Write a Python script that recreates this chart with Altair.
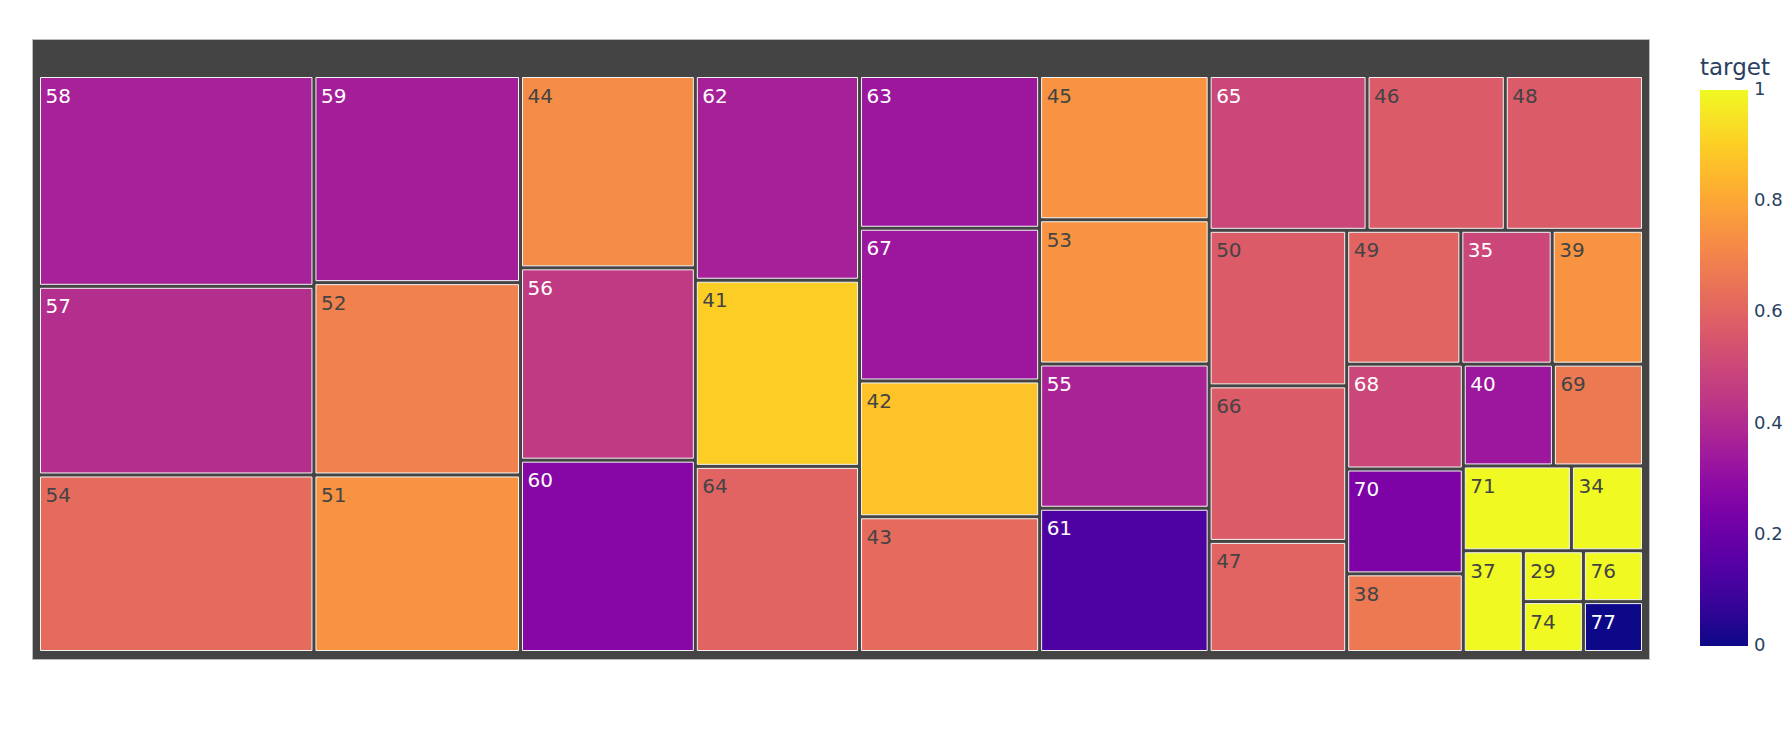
import altair as alt
import pandas as pd

# ---- data (age label, count = tile size, mean target = colour)
ages = [58, 57, 54, 59, 52, 51, 62, 44, 60, 56, 64, 41, 63, 67, 55, 61, 53, 45, 43, 42, 65,
        50, 66, 48, 46, 49, 47, 70, 39, 68, 35, 69, 40, 71, 38, 34, 37, 29, 74, 76, 77]
counts = [19, 17, 16, 14, 13, 12, 11, 11, 11, 11, 10, 10, 9, 9, 8, 8, 8, 8, 8, 8, 8,
          7, 7, 7, 7, 5, 5, 4, 4, 4, 4, 3, 3, 3, 3, 2, 2, 1, 1, 1, 1]
targets = [0.368, 0.412, 0.625, 0.357, 0.692, 0.75, 0.364, 0.727, 0.273, 0.455, 0.6, 0.9,
           0.333, 0.333, 0.375, 0.125, 0.75, 0.75, 0.625, 0.875, 0.5,
           0.571, 0.571, 0.571, 0.571, 0.6, 0.6, 0.25, 0.75, 0.5, 0.5, 0.667, 0.333, 1.0,
           0.667, 1.0, 1.0, 1.0, 1.0, 1.0, 0.0]
colorbar_ticks = [0, 0.2, 0.4, 0.6, 0.8, 1]

# ---- layout geometry (pixels of the plot area)
W, H = 1618, 621
PAD_L, PAD_R, PAD_T, PAD_B = 8, 8, 38, 9
GAP = 3.0


def squarify(values, x0, y0, x1, y1, ratio=1.0):
    """Port of d3-hierarchy squarify tiling."""
    out = [None] * len(values)
    n = len(values)
    i0 = i1 = 0
    value = float(sum(values))
    while i0 < n:
        dx, dy = x1 - x0, y1 - y0
        sumv = values[i1]
        i1 += 1
        minv = maxv = sumv
        alpha = max(dy / dx, dx / dy) / (value * ratio)
        beta = sumv * sumv * alpha
        minr = max(maxv / beta, beta / minv)
        while i1 < n:
            nv = values[i1]
            sumv += nv
            minv = min(minv, nv)
            maxv = max(maxv, nv)
            beta = sumv * sumv * alpha
            newr = max(maxv / beta, beta / minv)
            if newr > minr:
                sumv -= nv
                break
            minr = newr
            i1 += 1
        row = range(i0, i1)
        if dx < dy:
            ny = y0 + dy * sumv / value
            k = (x1 - x0) / sumv
            xx = x0
            for i in row:
                out[i] = (xx, y0, xx + values[i] * k, ny)
                xx += values[i] * k
            y0 = ny
        else:
            nx = x0 + dx * sumv / value
            k = (y1 - y0) / sumv
            yy = y0
            for i in row:
                out[i] = (x0, yy, nx, yy + values[i] * k)
                yy += values[i] * k
            x0 = nx
        value -= sumv
        i0 = i1
    return out


order = sorted(range(len(ages)), key=lambda i: (-counts[i], ages[i]))
vals = [counts[i] for i in order]
p = GAP / 2
rects = squarify(vals, PAD_L - p, PAD_T - p, W - PAD_R + p, H - PAD_B + p)

inset = p + 0.5  # keep the 1px white border inside each tile
rows = []
for j, i in enumerate(order):
    a, b, c, d = rects[j]
    rows.append({"age": str(ages[i]), "count": counts[i], "target": targets[i],
                 "x0": a + inset, "y0": b + inset, "x1": c - inset, "y1": d - inset})
df = pd.DataFrame(rows)
root = pd.DataFrame([{"x0": 0.5, "x1": W - 0.5, "y0": 0.5, "y1": H - 0.5}])

xs = alt.Scale(domain=[0, W], nice=False, zero=False)
ys = alt.Scale(domain=[0, H], nice=False, zero=False, reverse=True)
FONT = "DejaVu Sans"

root_layer = alt.Chart(root).mark_rect(fill="#444444", stroke="#bbbbbb", strokeWidth=1).encode(
    x=alt.X("x0:Q", scale=xs, axis=None), x2="x1:Q",
    y=alt.Y("y0:Q", scale=ys, axis=None), y2="y1:Q",
)

tiles = alt.Chart(df).mark_rect(stroke="#f4f4f4", strokeWidth=1).encode(
    x=alt.X("x0:Q", scale=xs, axis=None), x2="x1:Q",
    y=alt.Y("y0:Q", scale=ys, axis=None), y2="y1:Q",
    color=alt.Color(
        "target:Q",
        scale=alt.Scale(scheme="plasma", domain=[-0.0005, 1.0005]),
        legend=alt.Legend(
            title="target", orient="none", legendX=1668, legendY=18,
            direction="vertical",
            gradientLength=556, gradientThickness=48, gradientStrokeWidth=0,
            titleFont=FONT, titleFontSize=23, titleFontWeight="normal", titleColor="#2a3f5f",
            titlePadding=10,
            labelFont=FONT, labelFontSize=18, labelColor="#2a3f5f", labelOffset=6,
            labelOverlap=False,
            values=colorbar_ticks, format="~g",
        ),
    ),
)

labels = alt.Chart(df).mark_text(
    align="left", baseline="alphabetic", dx=5, dy=25, font=FONT, fontSize=20
).encode(
    x=alt.X("x0:Q", scale=xs, axis=None),
    y=alt.Y("y0:Q", scale=ys, axis=None),
    text="age:N",
    color=alt.condition("datum.target <= 0.5", alt.value("#ffffff"), alt.value("#444444")),
)

chart = alt.layer(root_layer, tiles, labels).properties(
    width=W, height=H,
    autosize=alt.AutoSizeParams(type="none"),
    padding={"left": 32, "top": 39, "right": 142, "bottom": 74},
).configure_view(stroke=None)

chart.save("out.html", embed_options={"renderer": "svg", "actions": False})
